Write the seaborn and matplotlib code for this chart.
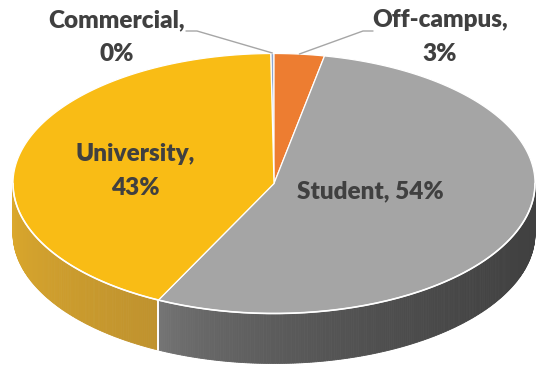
import numpy as np
import matplotlib
matplotlib.use("Agg")
import matplotlib.pyplot as plt
import seaborn as sns
from matplotlib.patches import Polygon
from matplotlib.colors import to_rgb

# ---- data ----
categories = ["Commercial", "Off-campus", "Student", "University"]
values = [0.2, 3.1, 54.2, 42.5]
pct_labels = ["0%", "3%", "54%", "43%"]
top_colors = ["#8FA6CF", "#ED7D31", "#A5A5A5", "#F9BC15"]
side_left = ["#3A5FA0", "#C8682A", "#777777", "#DBA82C"]
side_right = ["#2F4E85", "#B05A24", "#404040", "#BF922E"]

sns.set_theme(style="white")
plt.rcParams['font.family'] = ['Lato', 'DejaVu Sans']

W, H = 536, 366
fig = plt.figure(figsize=(W / 100, H / 100), dpi=100)
ax = fig.add_axes([0, 0, 1, 1])
ax.set_xlim(0, W)
ax.set_ylim(H, 0)
ax.axis('off')

cx, cy, a, b, depth = 274, 183.5, 261, 130, 50


def pt(phi):
    p = np.radians(phi)
    return np.array([cx + a * np.sin(p), cy - b * np.cos(p)])


total = float(sum(values))
angles = np.array(values) / total * 360.0
start = -angles[0]
bounds = []
s = start
for ang in angles:
    bounds.append((s, s + ang))
    s += ang

# ---- side walls (front half only) ----
for i, (s0, e0) in enumerate(bounds):
    lo, hi = max(s0, 90.0), min(e0, 270.0)
    if hi <= lo:
        continue
    xs0, xs1 = pt(hi)[0], pt(lo)[0]
    cl, cr = np.array(to_rgb(side_left[i])), np.array(to_rgb(side_right[i]))
    n = max(int((hi - lo) * 2), 2)
    ph = np.linspace(lo, hi, n + 1)
    for k in range(n):
        p1, p2 = pt(ph[k]), pt(ph[k + 1])
        xm = 0.5 * (p1[0] + p2[0])
        t = np.clip((xm - xs0) / max(xs1 - xs0, 1e-6), 0, 1) ** 0.6
        col = cl + (cr - cl) * t
        quad = [p1, p2, p2 + [0, depth], p1 + [0, depth]]
        ax.add_patch(Polygon(quad, closed=True, facecolor=col, edgecolor=col, lw=0.6))
    for edge in (s0, e0):
        if 90 < edge < 270:
            p = pt(edge)
            ax.plot([p[0], p[0]], [p[1], p[1] + depth], color="white", lw=1.2)

# ---- top face ----
for i, (s0, e0) in enumerate(bounds):
    ph = np.linspace(s0, e0, max(int(e0 - s0) * 2, 4))
    pts = [np.array([cx, cy])] + [pt(p) for p in ph]
    ax.add_patch(Polygon(pts, closed=True, facecolor=top_colors[i],
                         edgecolor="white", lw=0.9, joinstyle="round"))

ph = np.linspace(90, 270, 200)
rim = np.array([pt(p) for p in ph])
ax.plot(rim[:, 0], rim[:, 1], color="white", lw=1.2)

# ---- labels ----
txt_kw = dict(fontsize=17.5, fontweight="heavy", color="#404040",
              ha="center", va="center", linespacing=1.62)
ax.text(117, 37, f"{categories[0]},\n{pct_labels[0]}", **txt_kw)
ax.text(440, 37, f"{categories[1]},\n{pct_labels[1]}", **txt_kw)
ax.text(370, 191, f"{categories[2]}, {pct_labels[2]}", **txt_kw)
ax.text(135, 171, f"{categories[3]},\n{pct_labels[3]}", **txt_kw)

# leader lines
lc = "#A6A6A6"
ax.plot([186, 197, pt(bounds[0][0] + angles[0] / 2)[0]], [31, 31, 53], color=lc, lw=1)
ax.plot([373, 363, pt(bounds[1][0] + angles[1] / 2)[0]], [31, 31, 54], color=lc, lw=1)

fig.savefig("out.png", dpi=100)
